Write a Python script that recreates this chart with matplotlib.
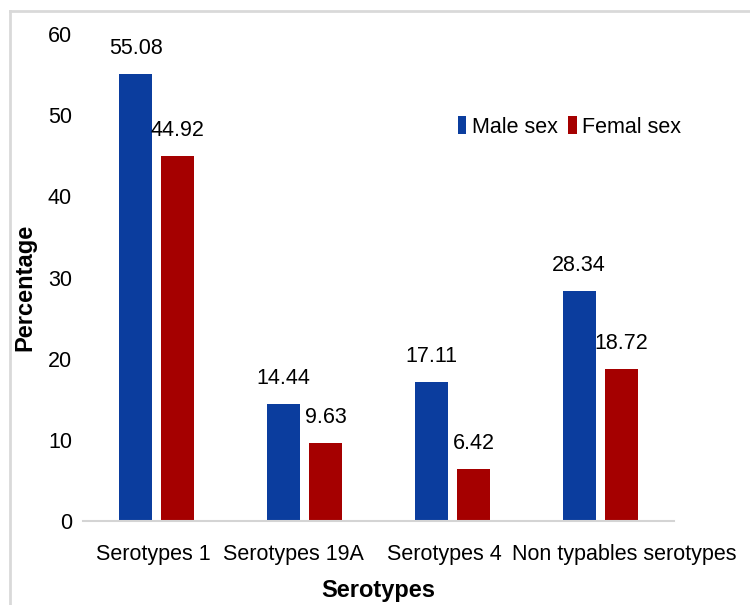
import matplotlib
matplotlib.use("Agg")
import matplotlib.pyplot as plt
import matplotlib.transforms as mtransforms
from matplotlib.lines import Line2D
import numpy as np

categories = ["Serotypes 1", "Serotypes 19A", "Serotypes 4", "Non typables serotypes"]
male = [55.08, 14.44, 17.11, 28.34]
female = [44.92, 9.63, 6.42, 18.72]
series_names = ["Male sex", "Femal sex"]

plt.rcParams["font.family"] = ["Liberation Sans", "DejaVu Sans"]

BLUE = "#0b3d9e"
RED = "#a50000"

fig = plt.figure(figsize=(7.5, 6.05), dpi=100)
ax = fig.add_axes([0.1107, 0.1388, 0.788, 0.805])

x = np.arange(len(categories))
w = 0.223
off = 0.142
b1 = ax.bar(x - off, male, w, color=BLUE, label=series_names[0])
b2 = ax.bar(x + off, female, w, color=RED, label=series_names[1])

for bars, vals in ((b1, male), (b2, female)):
    for rect, v in zip(bars, vals):
        ax.annotate(f"{v:.2f}", (rect.get_x() + rect.get_width() / 2, v),
                    xytext=(0, 18.5), textcoords="offset points",
                    ha="center", va="center", fontsize=15.5, color="black")

ax.set_xlim(-0.5, len(categories) - 0.5)
ax.set_ylim(0, 60)
ax.set_yticks(np.arange(0, 61, 10))
ax.set_xticks(x)
ax.set_xticklabels(categories)
ax.tick_params(axis="both", length=0, labelsize=15.5)
ax.tick_params(axis="y", pad=8)
ax.tick_params(axis="x", pad=16.5)

# spread the category labels so the long last one fits beside its neighbour
label_shift_px = [-3.5, -11, -8.5, 24]
for lbl, dx in zip(ax.get_xticklabels(), label_shift_px):
    lbl.set_transform(lbl.get_transform() +
                      mtransforms.ScaledTranslation(dx / 100, 0, fig.dpi_scale_trans))

for s in ("top", "right", "left"):
    ax.spines[s].set_visible(False)
ax.spines["bottom"].set_color("#d4d4d4")
ax.spines["bottom"].set_linewidth(1.5)

ax.set_xlabel("Serotypes", fontsize=17, fontweight="bold", labelpad=10)
ax.set_ylabel("Percentage", fontsize=17, fontweight="bold", va="center")
ax.yaxis.set_label_coords(-0.098, 0.48)

leg = fig.legend(loc="center left", bbox_to_anchor=(447 / 750, 1 - 127 / 605),
                 ncol=2, frameon=False, fontsize=15.5, borderpad=0,
                 handlelength=0.4, handleheight=0.85, handletextpad=0.25,
                 columnspacing=0.5)

# light frame along the top and left edges
fig.add_artist(Line2D([10 / 750, 1.0], [1 - 11 / 605, 1 - 11 / 605],
                      transform=fig.transFigure, color="#d9d9d9", lw=2))
fig.add_artist(Line2D([10 / 750, 10 / 750], [0.0, 1 - 11 / 605],
                      transform=fig.transFigure, color="#d9d9d9", lw=2))

fig.savefig("out.png", dpi=100)
